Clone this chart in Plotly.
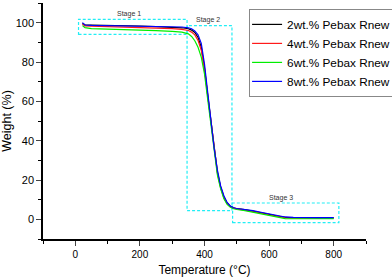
import plotly.graph_objects as go

temperature = [22, 30, 50, 100, 150, 200, 250, 300, 330, 350, 360, 370, 380, 390, 400, 410, 420,
               430, 440, 450, 460, 470, 480, 490, 500, 525, 550, 575, 600, 625, 650, 675, 700, 750, 800]

w2 = [99.6, 98.9, 98.8, 98.7, 98.5, 98.3, 98.0, 97.7, 97.4, 96.9, 96.2, 95.0, 92.5, 87.5, 77, 63, 49,
      35, 24, 16.5, 11.5, 8.3, 6.6, 5.8, 5.4, 4.9, 4.2, 3.4, 2.5, 1.7, 1.0, 0.8, 0.8, 0.8, 0.8]
w4 = [99.2, 98.4, 98.2, 98.0, 97.8, 97.6, 97.3, 97.0, 96.6, 96.0, 95.2, 93.8, 91.0, 86.0, 76, 62.5, 48.5,
      34.5, 23.5, 16.0, 11.0, 8.0, 6.4, 5.7, 5.3, 4.7, 4.0, 3.1, 2.2, 1.4, 0.8, 0.6, 0.6, 0.6, 0.6]
w6 = [98.5, 97.5, 97.0, 96.8, 96.6, 96.3, 96.0, 95.6, 95.2, 94.3, 93.0, 90.8, 87.5, 82.5, 74, 61, 47.5,
      33.5, 22.5, 15.5, 10.5, 7.6, 6.1, 5.4, 5.0, 4.4, 3.6, 2.7, 1.8, 1.0, 0.4, 0.3, 0.3, 0.3, 0.4]
w8 = [100.0, 98.8, 98.6, 98.5, 98.4, 98.3, 98.2, 98.0, 97.8, 97.4, 96.9, 95.8, 93.8, 89.5, 79, 64.5, 50,
      36, 25, 17, 12, 8.6, 6.8, 5.9, 5.5, 5.1, 4.4, 3.6, 2.7, 1.9, 1.2, 1.0, 0.9, 0.9, 0.9]

series_names = ["2wt.% Pebax Rnew", "4wt.% Pebax Rnew", "6wt.% Pebax Rnew", "8wt.% Pebax Rnew"]
series_values = [w2, w4, w6, w8]
series_colors = ["#000000", "#ff1a1a", "#00ee00", "#0000ff"]

stage_labels = ["Stage 1", "Stage 2", "Stage 3"]
stage_x0 = [10, 346, 487]
stage_x1 = [346, 485, 816]
stage_y0 = [94, 4.4, -1.7]
stage_y1 = [101.7, 98.5, 8.3]
stage_label_x = [167, 412, 638]
stage_label_y = [104.6, 101.2, 10.8]

x_ticks = [0, 200, 400, 600, 800]
y_ticks = [0, 20, 40, 60, 80, 100]

FONT = "Arial, Liberation Sans, sans-serif"

fig = go.Figure()
for name, vals, col in zip(series_names, series_values, series_colors):
    fig.add_trace(go.Scatter(x=temperature, y=vals, mode="lines", name=name,
                             line=dict(color=col, width=1.2)))

for i in range(len(stage_labels)):
    fig.add_shape(type="rect", xref="x", yref="y",
                  x0=stage_x0[i], x1=stage_x1[i], y0=stage_y0[i], y1=stage_y1[i],
                  line=dict(color="#22eef5", width=1.2, dash="3px,2px"), layer="below")
    fig.add_annotation(x=stage_label_x[i], y=stage_label_y[i], text=stage_labels[i],
                       showarrow=False, font=dict(size=7, color="#333333", family=FONT))

fig.update_layout(
    width=392, height=277,
    margin=dict(l=43, r=26, t=3, b=38, autoexpand=False),
    paper_bgcolor="white", plot_bgcolor="white",
    font=dict(family=FONT, color="black"),
    legend=dict(x=0.638, y=0.975, xanchor="left", yanchor="top",
                bordercolor="#888888", borderwidth=1, bgcolor="white",
                font=dict(size=11.8, family=FONT), tracegroupgap=0, indentation=-3),
)
fig.update_xaxes(range=[-100, 900], tickvals=x_ticks, ticks="outside", ticklen=5, tickwidth=1,
                 showline=True, linecolor="black", linewidth=1.5, showgrid=False, zeroline=False,
                 automargin=False,
                 tickfont=dict(size=10), title=dict(text="Temperature (°C)", font=dict(size=12), standoff=8),
                 minor=dict(dtick=100, tick0=0, ticks="outside", ticklen=3, tickcolor="black", showgrid=False))
fig.update_yaxes(range=[-10, 110], tickvals=y_ticks, ticks="outside", ticklen=5, tickwidth=1,
                 showline=True, linecolor="black", linewidth=1.5, showgrid=False, zeroline=False,
                 automargin=False,
                 tickfont=dict(size=11), title=dict(text="Weight (%)", font=dict(size=12.5), standoff=3),
                 minor=dict(dtick=10, tick0=0, ticks="outside", ticklen=3, tickcolor="black", showgrid=False))

fig.write_html("out.html", config={"displayModeBar": False},
               post_script="document.body.style.margin='0';document.body.style.padding='0';")
